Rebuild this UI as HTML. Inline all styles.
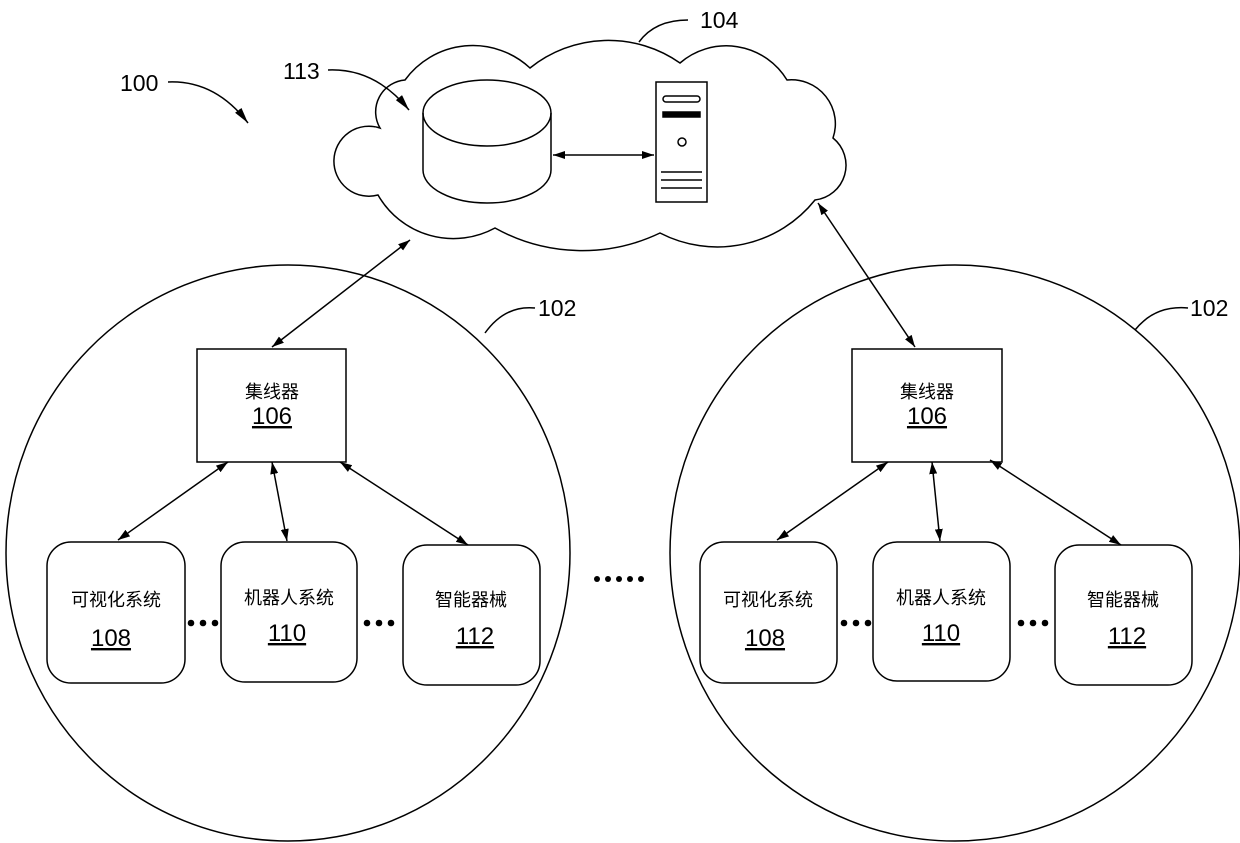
<!DOCTYPE html>
<html><head><meta charset="utf-8"><style>
html,body{margin:0;padding:0;background:#fff}
svg{display:block}
.t{font-family:"Liberation Sans","Noto Sans CJK SC",sans-serif;fill:#000}
</style></head><body>
<svg width="1240" height="843" viewBox="0 0 1240 843" xmlns="http://www.w3.org/2000/svg">
<defs>
<marker id="a" viewBox="0 0 12 8" refX="12" refY="4" markerWidth="12" markerHeight="8" markerUnits="userSpaceOnUse" orient="auto-start-reverse"><path d="M0,0 L12,4 L0,8 z" fill="#000"/></marker>
<marker id="b" viewBox="0 0 16 8" refX="16" refY="4" markerWidth="16" markerHeight="8" markerUnits="userSpaceOnUse" orient="auto"><path d="M0,0 L16,4 L0,8 z" fill="#000"/></marker>
</defs>
<g fill="none" stroke="#000" stroke-width="1.5">
<!-- cloud -->
<path d="M380,128 A32,32 0 0 1 405,80 A84,84 0 0 1 530,68 A125,125 0 0 1 680,63 A71,71 0 0 1 787,80 A44,44 0 0 1 833,138 A35,35 0 0 1 815,200 A125,125 0 0 1 660,233 A180,180 0 0 1 495,228 A87,87 0 0 1 378,195 A35,35 0 1 1 380,128 Z"/>
<path d="M639,42 Q655,20 688,20"/>
<!-- cylinder -->
<ellipse cx="487" cy="113" rx="64" ry="33"/>
<path d="M423,113 L423,170 A64,33 0 0 0 551,170 L551,113"/>
<!-- server -->
<rect x="656" y="82" width="51" height="120"/>
<rect x="663" y="96" width="37" height="6" rx="3"/>
<rect x="663" y="112" width="37" height="5" fill="#000"/>
<circle cx="682" cy="142" r="4"/>
<path d="M661,172 H702 M661,180 H702 M661,188 H702"/>
<line x1="553" y1="155" x2="654" y2="155" marker-start="url(#a)" marker-end="url(#a)"/>
<!-- labels leaders -->
<path d="M168,82 Q215,80 248,123" marker-end="url(#b)"/>
<path d="M328,70 Q375,68 409,110" marker-end="url(#b)"/>
<path d="M485,333 Q505,305 535,308"/>
<path d="M1135,330 Q1155,305 1188,308"/>
<!-- big circles -->
<ellipse cx="288" cy="553" rx="282" ry="288"/>
<ellipse cx="955" cy="553" rx="285" ry="288"/>
<!-- hubs -->
<rect x="197" y="349" width="149" height="113"/>
<rect x="852" y="349" width="150" height="113"/>
<!-- nodes -->
<rect x="47" y="542" width="138" height="141" rx="24"/>
<rect x="221" y="542" width="136" height="140" rx="24"/>
<rect x="403" y="545" width="137" height="140" rx="24"/>
<rect x="700" y="542" width="137" height="141" rx="24"/>
<rect x="873" y="542" width="137" height="139" rx="24"/>
<rect x="1055" y="545" width="137" height="140" rx="24"/>
<!-- arrows -->
<line x1="410" y1="240" x2="272" y2="347" marker-start="url(#a)" marker-end="url(#a)"/>
<line x1="818" y1="203" x2="915" y2="347" marker-start="url(#a)" marker-end="url(#a)"/>
<line x1="228" y1="462" x2="118" y2="540" marker-start="url(#a)" marker-end="url(#a)"/>
<line x1="272" y1="462" x2="287" y2="541" marker-start="url(#a)" marker-end="url(#a)"/>
<line x1="340" y1="462" x2="468" y2="545" marker-start="url(#a)" marker-end="url(#a)"/>
<line x1="888" y1="462" x2="777" y2="540" marker-start="url(#a)" marker-end="url(#a)"/>
<line x1="932" y1="462" x2="940" y2="541" marker-start="url(#a)" marker-end="url(#a)"/>
<line x1="990" y1="460" x2="1121" y2="545" marker-start="url(#a)" marker-end="url(#a)"/>
</g>
<!-- dots -->
<g fill="#000">
<circle cx="191" cy="623" r="3.3"/><circle cx="203" cy="623" r="3.3"/><circle cx="215" cy="623" r="3.3"/>
<circle cx="367" cy="623" r="3.3"/><circle cx="379" cy="623" r="3.3"/><circle cx="391" cy="623" r="3.3"/>
<circle cx="844" cy="623" r="3.3"/><circle cx="856" cy="623" r="3.3"/><circle cx="868" cy="623" r="3.3"/>
<circle cx="1021" cy="623" r="3.3"/><circle cx="1033" cy="623" r="3.3"/><circle cx="1045" cy="623" r="3.3"/>
<circle cx="597" cy="579" r="3"/><circle cx="608" cy="579" r="3"/><circle cx="619" cy="579" r="3"/><circle cx="630" cy="579" r="3"/><circle cx="641" cy="579" r="3"/>
</g>
<g class="t" font-size="23">
<text x="120" y="91">100</text>
<text x="283" y="79">113</text>
<text x="700" y="28">104</text>
<text x="538" y="316">102</text>
<text x="1190" y="316">102</text>
</g>
<g class="t" text-anchor="middle">
<g font-size="18">
<text x="272" y="398">集线器</text>
<text x="927" y="398">集线器</text>
<text x="116" y="606">可视化系统</text>
<text x="289" y="604">机器人系统</text>
<text x="471" y="606">智能器械</text>
<text x="768" y="606">可视化系统</text>
<text x="941" y="604">机器人系统</text>
<text x="1123" y="606">智能器械</text>
</g>
<g font-size="24" text-decoration="underline">
<text x="272" y="424">106</text>
<text x="927" y="424">106</text>
<text x="111" y="646">108</text>
<text x="287" y="641">110</text>
<text x="475" y="644">112</text>
<text x="765" y="646">108</text>
<text x="941" y="641">110</text>
<text x="1127" y="644">112</text>
</g>
</g>
</svg>
</body></html>
